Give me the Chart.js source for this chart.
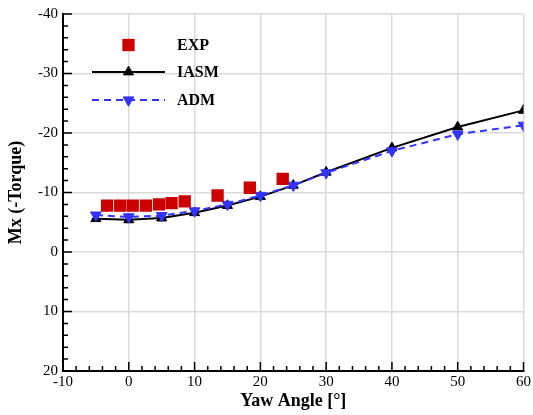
<!DOCTYPE html>
<html>
<head>
<meta charset="utf-8">
<script src="https://cdn.jsdelivr.net/npm/chart.js@4"></script>
<style>
  html, body { margin: 0; padding: 0; background: #fff; }
</style>
</head>
<body>
<canvas id="chart" width="533" height="415"></canvas>
<script>
// measured torque (EXP)
const yawExp = [-3.3, -1.3, 0.6, 2.6, 4.6, 6.5, 8.5, 13.5, 18.4, 23.4];
const mxExp  = [-7.8, -7.8, -7.8, -7.8, -8.0, -8.2, -8.5, -9.5, -10.8, -12.3];
// model runs
const yawModel = [-5, 0, 5, 10, 15, 20, 25, 30, 40, 50, 60];
const mxIasm   = [-5.6, -5.4, -5.7, -6.6, -7.8, -9.3, -11.2, -13.4, -17.5, -21.0, -23.8];
const mxAdm    = [-6.2, -5.9, -6.1, -6.9, -8.0, -9.5, -11.2, -13.3, -17.0, -19.8, -21.3];
// axis ticks
const xTicks = [-10, 0, 10, 20, 30, 40, 50, 60];
const yTicks = [-40, -30, -20, -10, 0, 10, 20];

const SERIF = "'Liberation Serif', 'Times New Roman', serif";
const pts = (xs, ys) => xs.map((x, i) => ({ x: x, y: ys[i] }));

// tecplot-style ticks pointing into the plot, minor every 2 units
const innerTicks = {
  id: 'innerTicks',
  beforeDatasetsDraw(chart) {
    const { ctx, chartArea: a, scales: { x, y } } = chart;
    ctx.save();
    ctx.strokeStyle = '#000';
    ctx.lineWidth = 1.5;
    ctx.beginPath();
    for (let v = x.min; v <= x.max; v += 2) {
      const px = x.getPixelForValue(v);
      const len = v % 10 === 0 ? 9 : 5;
      ctx.moveTo(px, a.bottom);
      ctx.lineTo(px, a.bottom - len);
    }
    for (let v = y.min; v <= y.max; v += 2) {
      const py = y.getPixelForValue(v);
      const len = v % 10 === 0 ? 9 : 5;
      ctx.moveTo(a.left, py);
      ctx.lineTo(a.left + len, py);
    }
    ctx.stroke();
    ctx.restore();
  }
};

// legend box inside the plot, top left
const insideLegend = {
  id: 'insideLegend',
  afterDatasetsDraw(chart) {
    const ctx = chart.ctx;
    const rows = [45, 72, 100];
    const x0 = 92, x1 = 165, xm = 128.5, xt = 177;
    ctx.save();
    chart.data.datasets.forEach((ds, i) => {
      const yy = rows[i];
      if (ds.showLine) {
        ctx.strokeStyle = ds.borderColor;
        ctx.lineWidth = ds.borderWidth;
        ctx.setLineDash(ds.borderDash || []);
        ctx.beginPath();
        ctx.moveTo(x0, yy);
        ctx.lineTo(x1, yy);
        ctx.stroke();
        ctx.setLineDash([]);
      }
      ctx.fillStyle = ds.pointBackgroundColor;
      ctx.strokeStyle = ds.pointBorderColor;
      ctx.lineWidth = ds.pointBorderWidth;
      Chart.helpers.drawPoint(ctx, {
        pointStyle: ds.pointStyle,
        rotation: ds.pointRotation || 0,
        radius: ds.pointRadius,
        borderWidth: ds.pointBorderWidth
      }, xm, yy);
      ctx.fillStyle = '#000';
      ctx.font = 'bold 16px ' + SERIF;
      ctx.textBaseline = 'middle';
      ctx.textAlign = 'left';
      ctx.fillText(ds.label, xt, yy + 1);
    });
    ctx.restore();
  }
};

new Chart(document.getElementById('chart'), {
  type: 'scatter',
  data: {
    datasets: [
      {
        label: 'EXP',
        data: pts(yawExp, mxExp),
        showLine: false,
        pointStyle: 'rect',
        pointRadius: 8.7,
        pointBackgroundColor: '#cc0000',
        pointBorderColor: '#cc0000',
        pointBorderWidth: 0,
        order: 0
      },
      {
        label: 'IASM',
        data: pts(yawModel, mxIasm),
        showLine: true,
        borderColor: '#000',
        borderWidth: 2,
        pointStyle: 'triangle',
        pointRadius: 5.8,
        pointBackgroundColor: '#000',
        pointBorderColor: '#000',
        pointBorderWidth: 1,
        order: 2
      },
      {
        label: 'ADM',
        data: pts(yawModel, mxAdm),
        showLine: true,
        borderColor: '#3333ff',
        borderWidth: 2,
        borderDash: [7, 5],
        pointStyle: 'triangle',
        pointRotation: 180,
        pointRadius: 6.2,
        pointBackgroundColor: '#3333ff',
        pointBorderColor: '#3333ff',
        pointBorderWidth: 1,
        order: 1
      }
    ]
  },
  options: {
    responsive: false,
    animation: false,
    layout: { padding: { top: 12, right: 8, left: 0, bottom: 0 } },
    plugins: {
      legend: { display: false },
      tooltip: { enabled: false }
    },
    scales: {
      x: {
        type: 'linear',
        min: -10,
        max: 60,
        afterBuildTicks: s => { s.ticks = xTicks.map(v => ({ value: v })); },
        afterFit: s => { s.height = 44; },
        ticks: { color: '#000', padding: 2, font: { family: SERIF, size: 15 } },
        grid: { color: '#dadada', lineWidth: 1.5, drawTicks: false },
        border: { color: '#000', width: 2 },
        title: {
          display: true,
          text: 'Yaw Angle [°]',
          color: '#000',
          padding: { top: 0, bottom: 3 },
          font: { family: SERIF, size: 18, weight: 'bold' }
        }
      },
      y: {
        type: 'linear',
        min: -40,
        max: 20,
        reverse: true,
        afterBuildTicks: s => { s.ticks = yTicks.map(v => ({ value: v })); },
        afterFit: s => { s.width = 63; },
        ticks: { color: '#000', padding: 5, font: { family: SERIF, size: 15 } },
        grid: { color: '#dadada', lineWidth: 1.5, drawTicks: false },
        border: { color: '#000', width: 2 },
        title: {
          display: true,
          text: 'Mx (-Torque)',
          color: '#000',
          padding: { top: 6, bottom: 0 },
          font: { family: SERIF, size: 18, weight: 'bold' }
        }
      }
    }
  },
  plugins: [innerTicks, insideLegend]
});
</script>
</body>
</html>
